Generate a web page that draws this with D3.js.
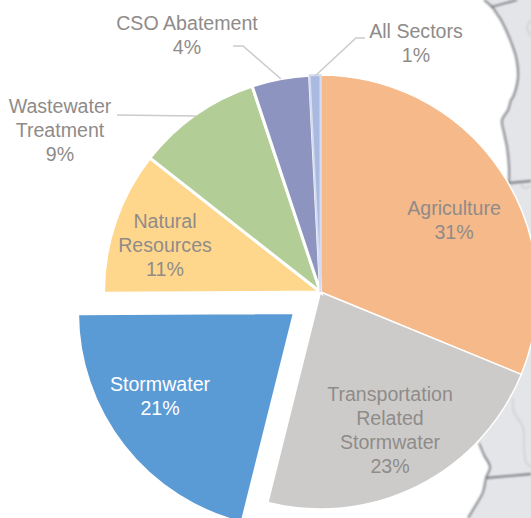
<!DOCTYPE html>
<html><head><meta charset="utf-8">
<script src="https://cdn.jsdelivr.net/npm/d3@7"></script>
<style>html,body{margin:0;padding:0;background:#fff;overflow:hidden}svg{display:block}</style>
</head><body><svg id="c" width="531" height="518"></svg>
<script>
const categories = ["Agriculture","Transportation Related Stormwater","Stormwater","Natural Resources","Wastewater Treatment","CSO Abatement","All Sectors"];
const values = [31.2,22.7,21,10.7,9.3,4.3,0.8];
const percentLabels = ["31%","23%","21%","11%","9%","4%","1%"];
const colors = ["#f6b98a","#cdcbc9","#5b9bd5","#ffd78c","#b2cd95","#8e94c0","#a9b9e0"];
const explode = [0,0,33,0,0,0,0];
const labelLines = [["Agriculture"],["Transportation","Related","Stormwater"],["Stormwater"],["Natural","Resources"],["Wastewater","Treatment"],["CSO Abatement"],["All Sectors"]];
const labelPos = [[454,208],[390,394],[160,384],[165,221],[60,106],[187,23],[416,31]];
const labelColors = ["#8f8b89","#8f8b89","#ffffff","#8f8b89","#8f8b89","#8f8b89","#8f8b89"];
const leaders = [[[233,46],[243,46],[281,79]],[[365,38],[356,38],[315,76]],[[117,115],[196,116]]];
const coast = [[484,0],[493,8],[497,14],[501,20],[506,30],[511,42],[516,57],[518,77],[513,97],[511,100],[508,110],[502,120],[504,133],[507,147],[509,167],[509,183]];
const coastSouth = [[479,443],[484,455],[490,467],[486,478],[483,492],[474,508],[468,518]];
const borders = [[[491,7],[517,0]],[[509,183],[531,181]],[[486,478],[531,474]]];
const rivers = [[[513,398],[514,412],[523,427],[524,447],[526,462],[531,467]],[[511,186],[518,181],[524,188],[531,186]],[[531,20],[527,27],[531,36]]];

const svg = d3.select("#c");
const defs = svg.append("defs");
defs.append("filter").attr("id","soft").append("feGaussianBlur").attr("stdDeviation",0.8);
const line = d3.line().curve(d3.curveCatmullRom);
const land = [...coast,[509,300],[479,443],...coastSouth.slice(1),[531,518],[531,0]];
svg.append("path").attr("d",d3.line()(land)+"Z").attr("fill","#e3e5e9");
const map = svg.append("g").attr("fill","none").attr("filter","url(#soft)");
rivers.forEach(r=>map.append("path").attr("d",line(r)).attr("stroke","#c8cace").attr("stroke-width",1.2));
[coast,coastSouth].forEach(r=>map.append("path").attr("d",line(r)).attr("stroke","#85878c").attr("stroke-width",2));
borders.forEach(r=>map.append("path").attr("d",d3.line()(r)).attr("stroke","#727478").attr("stroke-width",1.8));

const cx=320.5, cy=292, R=217;
const pie = d3.pie().sort(null).value(d=>d).startAngle(0).endAngle(2*Math.PI);
const arcs = pie(values);
const arc = d3.arc().innerRadius(0).outerRadius(R);
svg.append("g").selectAll("path").data(arcs).join("path")
  .attr("d",arc).attr("fill",(d,i)=>colors[i])
  .attr("stroke",(d,i)=>i===6?"#d5dcef":"#fff").attr("stroke-width",(d,i)=>i===0||i===1?1.5:i===6?2:3).attr("stroke-linejoin","miter")
  .attr("transform",(d,i)=>{
    const m=(d.startAngle+d.endAngle)/2;
    return `translate(${cx+explode[i]*Math.sin(m)},${cy-explode[i]*Math.cos(m)})`;
  });
leaders.forEach(l=>svg.append("path").attr("d",d3.line()(l)).attr("fill","none").attr("stroke","#cbcbcb").attr("stroke-width",1.5));
const fs=19.6, lh=24;
const txt = svg.append("g").attr("font-family","'Liberation Sans',Arial,sans-serif").attr("font-size",fs).attr("text-anchor","middle");
categories.forEach((c,i)=>{
  const [x,y]=labelPos[i];
  const lines=[...labelLines[i],percentLabels[i]];
  lines.forEach((t,k)=>txt.append("text").attr("x",x).attr("y",y+k*lh).attr("dy","0.36em").attr("fill",labelColors[i]).text(t));
});
</script></body></html>
